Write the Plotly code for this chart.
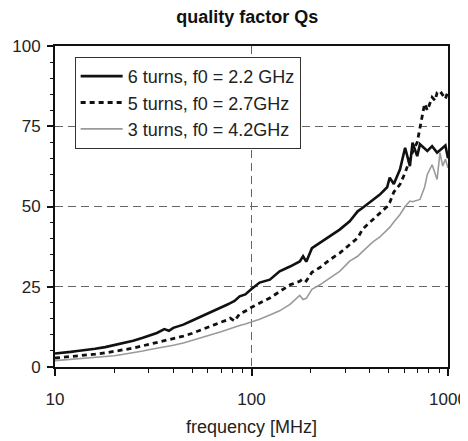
import plotly.graph_objects as go

freq = [10, 11, 12, 13, 14, 15, 16, 18, 20, 22, 25, 28, 30, 33, 36, 38, 40, 45, 50, 55,
        60, 65, 70, 75, 78, 82, 87, 93, 100, 110, 124, 139, 157, 176, 183, 190, 203, 223,
        250, 281, 316, 347, 368, 415, 450, 490, 505, 530, 570, 605, 640, 660, 697, 720,
        760, 785, 830, 860, 880, 910, 940, 970, 1000]

q_6turns = [4.2, 4.4, 4.7, 5.0, 5.2, 5.5, 5.7, 6.2, 6.8, 7.4, 8.2, 9.1, 9.7, 10.6, 11.8, 11.3,
            12.2, 13.2, 14.5, 15.6, 16.6, 17.7, 18.6, 19.4, 19.9, 20.6, 22.0, 22.6, 24.3, 26.3,
            27.2, 29.8, 31.3, 32.9, 34.5, 32.8, 37.0, 38.6, 40.7, 42.8, 45.4, 48.5, 49.6, 52.2,
            53.7, 56.0, 59.0, 57.0, 61.6, 68.3, 62.6, 69.9, 65.7, 69.4, 68.0, 67.3, 68.8, 67.5,
            66.8, 67.5, 68.3, 69.0, 65.0]

q_5turns = [2.8, 3.0, 3.2, 3.4, 3.6, 3.8, 4.0, 4.4, 4.8, 5.3, 5.9, 6.6, 7.1, 7.7, 8.2, 8.5,
            8.8, 9.6, 10.5, 11.4, 12.3, 13.2, 14.0, 14.6, 15.2, 14.3, 16.6, 17.4, 18.6, 19.9,
            21.5, 23.5, 25.6, 26.7, 27.5, 26.8, 29.5, 31.0, 33.4, 35.5, 38.1, 40.2, 43.0, 46.0,
            48.0, 50.0, 51.2, 54.5, 56.9, 60.5, 64.7, 67.0, 70.0, 75.0, 82.0, 80.0, 84.0, 83.0,
            85.5, 86.0, 84.5, 83.5, 86.0]

q_3turns = [2.0, 2.2, 2.4, 2.6, 2.8, 3.0, 3.1, 3.3, 3.5, 3.9, 4.4, 5.0, 5.4, 5.8, 6.2, 6.5,
            6.8, 7.5, 8.3, 9.0, 9.7, 10.4, 11.0, 11.6, 12.0, 12.4, 12.9, 13.4, 14.0, 14.9,
            16.2, 17.5, 19.5, 22.3, 21.0, 21.4, 24.2, 25.6, 27.7, 29.8, 33.0, 34.5, 36.0, 39.0,
            40.5, 42.5, 43.5, 45.2, 47.5, 50.0, 51.7, 51.5, 51.8, 52.2, 56.0, 60.0, 63.0, 60.5,
            58.4, 66.8, 62.6, 64.7, 62.0]

names = ["6 turns, f0 = 2.2 GHz", "5 turns, f0 = 2.7GHz", "3 turns, f0 = 4.2GHz"]

x_tickvals = [10, 100, 1000]
x_minor = [20, 30, 40, 50, 60, 70, 80, 90, 200, 300, 400, 500, 600, 700, 800, 900]
y_tickvals = [0, 25, 50, 75, 100]

FONT = "Liberation Sans, Arial, Helvetica, sans-serif"

fig = go.Figure()
fig.add_trace(go.Scatter(x=freq, y=q_6turns, mode="lines", name=names[0],
                         line=dict(color="#111111", width=2.6)))
fig.add_trace(go.Scatter(x=freq, y=q_5turns, mode="lines", name=names[1],
                         line=dict(color="#111111", width=2.8, dash="5px,4px")))
fig.add_trace(go.Scatter(x=freq, y=q_3turns, mode="lines", name=names[2],
                         line=dict(color="#9a9a9a", width=1.6)))

# the page body adds an 8px offset, so the figure is 8px smaller on each axis
fig.update_layout(
    template="none",
    width=460, height=433,
    margin=dict(l=47, r=20, t=38, b=74),
    paper_bgcolor="white", plot_bgcolor="white",
    font=dict(family=FONT, size=17, color="#222222"),
    title=dict(text="<b>quality factor Qs</b>", xref="container", x=0.52, xanchor="center",
               yref="container", y=0.979, yanchor="middle",
               font=dict(family=FONT, size=18, color="#111111")),
    showlegend=True,
    legend=dict(x=0.05, y=0.966, xanchor="left", yanchor="top",
                bgcolor="white", bordercolor="#333333", borderwidth=1,
                font=dict(family=FONT, size=18, color="#222222"),
                itemwidth=42, tracegroupgap=0),
    xaxis=dict(type="log", range=[1, 3], tickmode="array", tickvals=x_tickvals,
               ticktext=["10", "100", "1000"], automargin=False,
               showline=True, linecolor="#111111", linewidth=2, mirror=True,
               ticks="outside", ticklen=7, tickwidth=1.5, tickcolor="#111111",
               ticklabelstandoff=9,
               showgrid=True, gridcolor="#666666", griddash="8px,5px", gridwidth=1,
               minor=dict(tickmode="array", tickvals=x_minor, ticks="outside",
                          ticklen=4, tickwidth=1.2, tickcolor="#111111", showgrid=False),
               zeroline=False,
               title=dict(text="frequency [MHz]", standoff=12,
                          font=dict(family=FONT, size=18, color="#222222"))),
    yaxis=dict(range=[0, 100], tickmode="array", tickvals=y_tickvals, automargin=False,
               showline=True, linecolor="#111111", linewidth=2, mirror=True,
               ticks="outside", ticklen=6, tickwidth=1.5, tickcolor="#111111",
               ticklabelstandoff=3,
               showgrid=True, gridcolor="#666666", griddash="8px,5px", gridwidth=1,
               minor=dict(dtick=5, ticks="outside", ticklen=3, tickwidth=1.2,
                          tickcolor="#111111", showgrid=False),
               zeroline=False),
)

fig.write_html("out.html")
